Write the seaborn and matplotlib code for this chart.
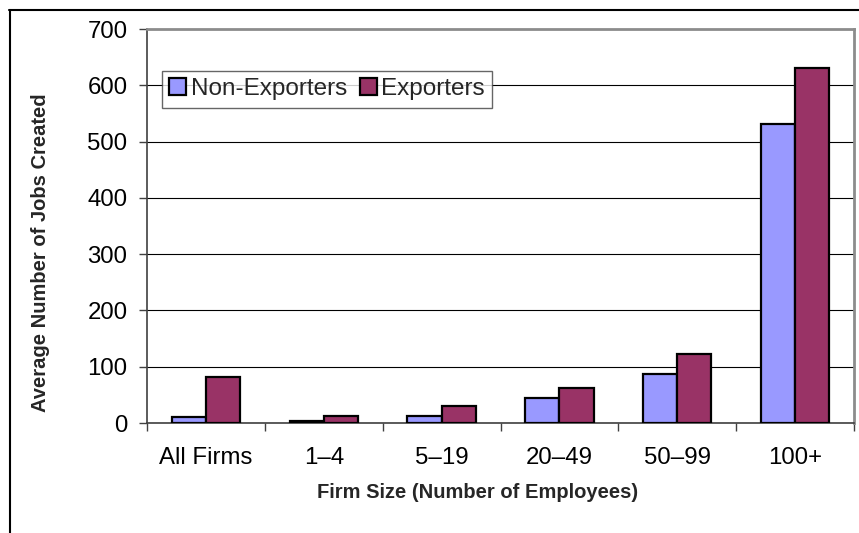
import matplotlib
matplotlib.use("Agg")
import matplotlib.pyplot as plt
import seaborn as sns
import pandas as pd
from matplotlib.lines import Line2D

# Average jobs created by firm size
categories = ["All Firms", "1\u20134", "5\u201319", "20\u201349", "50\u201399", "100+"]
non_exporters = [10, 3, 12, 44, 87, 531]
exporters = [81, 13, 31, 63, 123, 630]
series_names = ["Non-Exporters", "Exporters"]
series_colors = ["#9999FF", "#993366"]
y_ticks = [0, 100, 200, 300, 400, 500, 600, 700]

df = pd.DataFrame({
    "size": categories * 2,
    "jobs": non_exporters + exporters,
    "group": [series_names[0]] * len(categories) + [series_names[1]] * len(categories),
})

sns.set_theme(style="white")
plt.rcParams["font.family"] = ["Liberation Sans", "DejaVu Sans"]

W, H = 859, 533
fig = plt.figure(figsize=(W / 100, H / 100), dpi=100)
ax = fig.add_axes([147 / W, 1 - 423 / H, (854 - 147) / W, (423 - 29) / H])

sns.barplot(data=df, x="size", y="jobs", hue="group", order=categories,
            hue_order=series_names, palette=series_colors, width=0.58,
            edgecolor="black", linewidth=1.6, saturation=1, ax=ax,
            legend=True, zorder=3)

ax.set_ylim(0, 700)
ax.set_xlim(-0.5, len(categories) - 0.5)
ax.set_yticks(y_ticks)
ax.set_yticklabels([str(v) for v in y_ticks])
ax.yaxis.grid(True, color="black", linewidth=0.8)
ax.xaxis.grid(False)
ax.set_axisbelow(True)

# category ticks sit on the boundaries between groups
ax.set_xticks([i - 0.5 for i in range(len(categories) + 1)], minor=True)
ax.tick_params(axis="x", which="major", length=0, pad=17, labelsize=17.3, colors="black")
ax.tick_params(axis="x", which="minor", length=6, width=1, color="#404040", bottom=True)
ax.tick_params(axis="y", length=6, width=1, color="#404040", pad=8, labelsize=17.3,
               left=True, labelcolor="black")

for side in ["top", "right"]:
    ax.spines[side].set_color("#8c8c8c")
    ax.spines[side].set_linewidth(2)
for side in ["left", "bottom"]:
    ax.spines[side].set_color("#404040")
    ax.spines[side].set_linewidth(1.2)

ax.set_xlabel("")
ax.set_ylabel("")
fig.text(478 / W, 1 - 492 / H, "Firm Size (Number of Employees)", ha="center",
         va="center", fontsize=14.5, fontweight="bold")
fig.text(41 / W, 1 - 253 / H, "Average Number of Jobs Created", ha="center",
         va="center", rotation=90, fontsize=14.5, fontweight="bold")

leg = ax.legend(loc="upper left", bbox_to_anchor=((162 - 147) / (854 - 147), 1 - (71 - 29) / (423 - 29)),
                ncol=2, fontsize=17.5, frameon=True, fancybox=False, edgecolor="#404040",
                handlelength=0.7, handleheight=0.7, handletextpad=0.2,
                columnspacing=0.5, borderpad=0.3, borderaxespad=0)
leg.get_frame().set_linewidth(1)
for h in leg.legend_handles:
    h.set_edgecolor("black")
    h.set_linewidth(1.6)

# outer chart frame
fig.add_artist(Line2D([9 / W, 1], [1 - 9.5 / H, 1 - 9.5 / H], color="black", linewidth=1.5,
                      transform=fig.transFigure))
fig.add_artist(Line2D([9.5 / W, 9.5 / W], [0, 1 - 9.5 / H], color="black", linewidth=1.5,
                      transform=fig.transFigure))

fig.savefig("out.png", dpi=100, facecolor="white")
